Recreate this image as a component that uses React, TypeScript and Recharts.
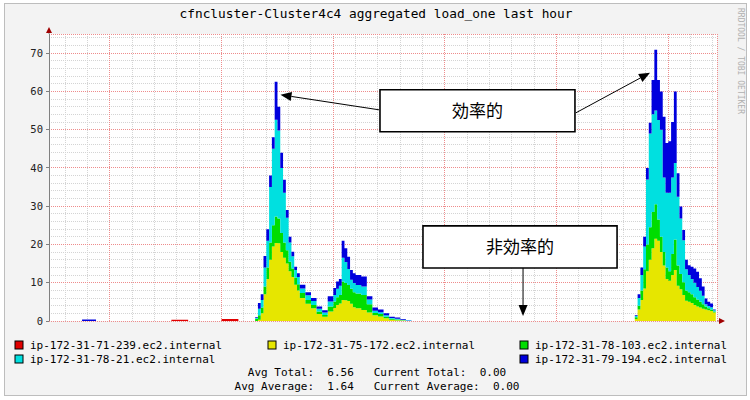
import React from 'react';
import { AreaChart, Area, XAxis, YAxis, CartesianGrid, ReferenceArea, ReferenceLine } from 'recharts';

// time in minutes after 19:00
const minutes = [
  14.54, 17.5, 18.75, 25.5, 27.0, 30.0, 31.5, 32.5,
  33.0, 33.25, 33.5, 33.75, 34.0, 34.25, 34.5, 34.75, 35.0, 35.25, 35.5, 35.75, 36.0, 36.25, 36.5, 36.75, 37.0,
  37.5, 38.0, 38.5, 39.0, 39.5, 40.0, 40.25, 40.5, 40.75, 41.0, 41.25, 41.5, 41.75, 42.0, 42.5, 43.0, 43.5, 44.0,
  44.5, 45.0, 45.5, 46.0, 46.5, 47.0,
  67.0, 67.25, 67.5, 67.75, 68.0, 68.25, 68.5, 68.75, 69.0, 69.25, 69.5, 69.75, 70.0, 70.25, 70.5, 70.75, 71.0,
  71.25, 71.5, 71.75, 72.0, 72.25, 72.5, 72.75, 73.0, 73.25, 73.5, 73.75, 74.0, 74.25,
];

const host71_239 = [
  0, 0, 0, 0.3, 0, 0.5, 0, 0,
  0, 0, 0, 0, 0, 0, 0, 0, 0, 0, 0, 0, 0, 0, 0, 0, 0,
  0, 0, 0, 0, 0, 0, 0, 0, 0, 0, 0, 0, 0, 0, 0, 0, 0, 0,
  0, 0, 0, 0, 0, 0,
  0, 0, 0, 0, 0, 0, 0, 0, 0, 0, 0, 0, 0, 0, 0, 0, 0,
  0, 0, 0, 0, 0, 0, 0, 0, 0, 0, 0, 0, 0,
];

const host75_172 = [
  0, 0, 0, 0, 0, 0, 0, 0,
  0, 0.3, 2, 7, 11, 16, 19.5, 20.4, 20.3, 18, 16.5, 15, 13, 11.5, 9.5, 8, 6,
  4.5, 3.3, 1.8, 1.1, 2.5, 3.4, 4.2, 4.6, 5.5, 5.4, 5.2, 4.5, 3.6, 3.3, 2.9, 2.2, 1.5, 1.2,
  0.7, 0.3, 0.2, 0.1, 0, 0,
  0.5, 3, 5.5, 8.5, 13, 16, 19, 21.5, 21, 18, 14.5, 11, 10.5, 12, 13.3, 9.2, 8.3,
  6.8, 5.3, 5, 4.7, 4.2, 3.8, 3.5, 3.2, 3, 2.8, 2.6, 2.2, 0,
];

const host78_103 = [
  0, 0, 0, 0, 0, 0, 0, 0,
  0.6, 1.2, 1.5, 2, 3, 4.5, 5.5, 6.9, 6.5, 5, 4, 3.5, 2.5, 2.2, 1.8, 1.6, 1.3,
  1, 0.9, 0.7, 0.5, 1.3, 1.7, 2, 2.2, 4.8, 4.5, 4.2, 3.9, 3.9, 3.9, 3.9, 2.2, 0.6, 0.6,
  0.4, 0.3, 0.2, 0.1, 0, 0,
  0.5, 1, 2.5, 5, 7, 8.5, 9.5, 9, 5.5, 4, 3.5, 3, 2.5, 5.5, 8, 5.3, 4,
  3.3, 2.7, 2.5, 2.3, 2, 1.8, 1.5, 1.2, 0.8, 0.5, 0.4, 0.3, 0,
];

const host78_21 = [
  0, 0, 0, 0, 0, 0, 0, 0,
  0.2, 1.7, 2, 5, 7, 14.5, 20, 25.3, 23, 17, 13, 8.5, 5, 3.2, 2, 1.9, 1.2,
  1.2, 1, 0.7, 0.6, 1.3, 1.7, 2.2, 2.4, 6.2, 5.5, 4.2, 2.4, 2.4, 2.2, 2.2, 1.2, 0.6, 0.5,
  0.4, 0.2, 0.2, 0.1, 0.1, 0,
  0.3, 2, 4, 6, 17, 24.5, 25.5, 24.5, 26, 28, 19.5, 19.5, 20.5, 20, 20, 18, 14.5,
  11, 5.5, 4.5, 4, 3.8, 3.3, 2.9, 2.2, 0.6, 0.6, 0.6, 0.3, 0,
];

const host79_194 = [
  0, 0.4, 0, 0, 0, 0, 0, 0,
  0.2, 1.5, 1.5, 3, 3, 3, 3, 9.9, 6.2, 4, 3.4, 2, 1.5, 1.2, 0.9, 1, 1,
  0.8, 0.8, 0.6, 0.6, 1.4, 1.8, 1.9, 1.8, 4.5, 3.6, 3.2, 2.5, 2.6, 2.6, 2.6, 0.9, 0.8, 0.7,
  0.5, 0.3, 0.3, 0.2, 0.1, 0,
  0.2, 1, 2, 2.5, 3, 2.8, 9, 15.9, 10.5, 10, 15.9, 13, 13.5, 14.5, 18.7, 6.1, 3.1,
  2.7, 2.5, 2.6, 3.2, 3.7, 4, 3.3, 2.4, 1.5, 1.1, 1, 0.2, 0,
];

const seriesNames = [
  'ip-172-31-71-239.ec2.internal',
  'ip-172-31-75-172.ec2.internal',
  'ip-172-31-78-103.ec2.internal',
  'ip-172-31-78-21.ec2.internal',
  'ip-172-31-79-194.ec2.internal',
];
const seriesColors = ['#e00000', '#e6e600', '#00dd00', '#00e0e0', '#0000dd'];
const seriesKeys = ['h1', 'h2', 'h3', 'h4', 'h5'];

const xTickValues = [20, 30, 40, 50, 60, 70];
const xTickLabels = ['19:20', '19:30', '19:40', '19:50', '20:00', '20:10'];
const yTickValues = [0, 10, 20, 30, 40, 50, 60, 70];
const minorX = [16, 18, 22, 24, 26, 28, 32, 34, 36, 38, 42, 44, 46, 48, 52, 54, 56, 58, 62, 64, 66, 68, 72, 74];
const minorY = [2, 4, 6, 8, 12, 14, 16, 18, 22, 24, 26, 28, 32, 34, 36, 38, 42, 44, 46, 48, 52, 54, 56, 58, 62, 64, 66, 68, 72, 74];

const statsLines = [
  'Avg Total:  6.56   Current Total:  0.00',
  'Avg Average:  1.64   Current Average:  0.00',
];

// annotations in data units (minutes, load)
const boxEfficient = { x1: 44.18, x2: 61.64, y1: 49.44, y2: 60.42, text: '効率的' };
const boxInefficient = { x1: 48.03, x2: 65.41, y1: 13.86, y2: 24.85, text: '非効率的' };
const arrows = [
  [{ x: 44.09, y: 55.19 }, { x: 35.27, y: 59.12 }],
  [{ x: 61.73, y: 54.41 }, { x: 68.36, y: 64.87 }],
  [{ x: 56.99, y: 13.86 }, { x: 56.99, y: 1.31 }],
];

const X_DOMAIN: [number, number] = [14.54, 74.36];
const Y_DOMAIN: [number, number] = [0, 75];
const MARGIN = { top: 34, right: 33, bottom: 79, left: 0 };
const CHART_W = 750;
const CHART_H = 400;
const Y_AXIS_W = 49;

const data = minutes.map((t, i) => ({
  t,
  h1: host71_239[i],
  h2: host75_172[i],
  h3: host78_103[i],
  h4: host78_21[i],
  h5: host79_194[i],
}));

const ArrowShape = (props: any) => {
  const { x1, y1, x2, y2 } = props;
  const dx = x2 - x1;
  const dy = y2 - y1;
  const len = Math.sqrt(dx * dx + dy * dy) || 1;
  const ux = dx / len;
  const uy = dy / len;
  const L = 11;
  const W = 4.5;
  const bx = x2 - ux * L;
  const by = y2 - uy * L;
  const pts = `${x2},${y2} ${bx - uy * W},${by + ux * W} ${bx + uy * W},${by - ux * W}`;
  return (
    <g>
      <line x1={x1} y1={y1} x2={bx} y2={by} stroke="#000" strokeWidth={1} />
      <polygon points={pts} fill="#000" />
    </g>
  );
};

// minor grid positions: use the axis scale when available, else the plot offset with the axis domain
const minorHorizontal = (args: any) => {
  const sc = args && args.yAxis && args.yAxis.scale;
  if (typeof sc === 'function') return minorY.map((v) => sc(v));
  const off = args && args.offset;
  const top = off && typeof off.top === 'number' ? off.top : MARGIN.top;
  const h = off && typeof off.height === 'number' ? off.height : CHART_H - MARGIN.top - MARGIN.bottom;
  return minorY.map((v) => top + h * (1 - (v - Y_DOMAIN[0]) / (Y_DOMAIN[1] - Y_DOMAIN[0])));
};
const minorVertical = (args: any) => {
  const sc = args && args.xAxis && args.xAxis.scale;
  if (typeof sc === 'function') return minorX.map((v) => sc(v));
  const off = args && args.offset;
  const left = off && typeof off.left === 'number' ? off.left : MARGIN.left + Y_AXIS_W;
  const w = off && typeof off.width === 'number' ? off.width : CHART_W - MARGIN.left - MARGIN.right - Y_AXIS_W;
  return minorX.map((v) => left + w * ((v - X_DOMAIN[0]) / (X_DOMAIN[1] - X_DOMAIN[0])));
};

const mono = 'DejaVu Sans Mono, monospace';

const css = `
.recharts-cartesian-grid line { shape-rendering: crispEdges; }
.recharts-cartesian-axis-line { shape-rendering: crispEdges; }
.recharts-cartesian-axis-tick-line { shape-rendering: crispEdges; }
`;

export default function App() {
  const legendPos = [
    { x: 15, y: 349 },
    { x: 268, y: 349 },
    { x: 520, y: 349 },
    { x: 15, y: 363 },
    { x: 520, y: 363 },
  ];
  return (
    <div style={{ position: 'absolute', left: 0, top: 0, width: 750, height: 400, background: '#fff', overflow: 'hidden' }}>
      <style>{css}</style>
      <div style={{ position: 'absolute', left: 4, top: 3, width: 741, height: 391, background: '#f3f3f3', border: '1px solid #bdbdbd' }} />
      <div style={{ position: 'absolute', left: 0, top: 0 }}>
        <AreaChart width={CHART_W} height={CHART_H} data={data} margin={MARGIN}>
          <CartesianGrid
            fill="#ffffff"
            fillOpacity={1}
            stroke="#d4d4d4"
            strokeDasharray="1 1"
            horizontalCoordinatesGenerator={minorHorizontal}
            verticalCoordinatesGenerator={minorVertical}
          />
          <CartesianGrid stroke="#ee8c8c" strokeDasharray="1 1" />
          <XAxis
            dataKey="t"
            type="number"
            domain={X_DOMAIN}
            allowDataOverflow
            ticks={xTickValues}
            interval={0}
            tickFormatter={(v: number) => xTickLabels[xTickValues.indexOf(v)] ?? ''}
            height={0}
            tickSize={0}
            tickMargin={3}
            axisLine={{ stroke: '#a86060' }}
            tick={{ fontFamily: mono, fontSize: 10.5, fill: '#222' }}
          />
          <YAxis
            type="number"
            domain={Y_DOMAIN}
            allowDataOverflow
            ticks={yTickValues}
            interval={0}
            width={Y_AXIS_W}
            tickSize={3}
            tickMargin={3}
            axisLine={{ stroke: '#808080' }}
            tickLine={{ stroke: '#808080' }}
            tick={{ fontFamily: mono, fontSize: 10.5, fill: '#222' }}
          />
          {seriesKeys.map((k, i) => (
            <Area
              key={k}
              dataKey={k}
              name={seriesNames[i]}
              stackId="1"
              type="stepAfter"
              stroke="none"
              fill={seriesColors[i]}
              fillOpacity={1}
              dot={false}
              activeDot={false}
              isAnimationActive={false}
            />
          ))}
          {[boxEfficient, boxInefficient].map((b, i) => (
            <ReferenceArea
              key={'b' + i}
              x1={b.x1}
              x2={b.x2}
              y1={b.y1}
              y2={b.y2}
              fill="#ffffff"
              fillOpacity={1}
              stroke="#000"
              strokeWidth={1.6}
              ifOverflow="visible"
              label={{ value: b.text, position: 'center', fill: '#000', fontSize: 17, fontFamily: 'Noto Sans CJK JP' }}
            />
          ))}
          {arrows.map((seg, i) => (
            <ReferenceLine key={'a' + i} segment={seg} ifOverflow="visible" shape={ArrowShape} />
          ))}
        </AreaChart>
      </div>
      <svg width={750} height={400} style={{ position: 'absolute', left: 0, top: 0, pointerEvents: 'none' }}>
        <line x1={49} y1={34} x2={49} y2={31} stroke="#808080" />
        <polygon points="49,27 46,33 52,33" fill="#a00000" />
        <line x1={717} y1={321} x2={720} y2={321} stroke="#a86060" />
        <polygon points="725,321 719,318 719,324" fill="#a00000" />
        <text x={376} y={18} textAnchor="middle" fontFamily={mono} fontSize={12.8} fill="#000">
          cfncluster-Cluster4c4 aggregated load_one last hour
        </text>
        <text x={0} y={0} transform="translate(738,8) rotate(90)" fontFamily={mono} fontSize={8} fill="#b0b0b0">
          RRDTOOL / TOBI OETIKER
        </text>
        {seriesNames.map((n, i) => (
          <g key={n}>
            <rect x={legendPos[i].x} y={legendPos[i].y - 8} width={8} height={8} fill={seriesColors[i]} stroke="#000" strokeWidth={1} />
            <text x={legendPos[i].x + 15} y={legendPos[i].y} fontFamily={mono} fontSize={11} fill="#000">
              {n}
            </text>
          </g>
        ))}
        {statsLines.map((s, i) => (
          <text key={s} x={377} y={376 + i * 14} textAnchor="middle" fontFamily={mono} fontSize={11} fill="#000" style={{ whiteSpace: 'pre' }}>
            {s}
          </text>
        ))}
      </svg>
    </div>
  );
}
